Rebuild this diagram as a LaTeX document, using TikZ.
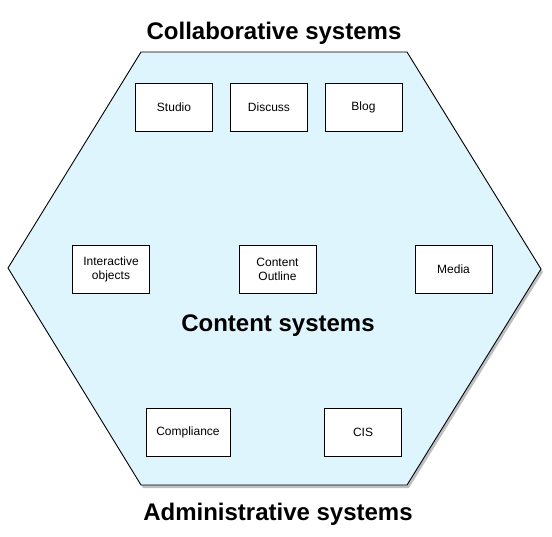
\documentclass[tikz,border=0pt]{standalone}
\usepackage{fontspec}
\setmainfont{Liberation Sans}
\definecolor{hexfill}{RGB}{223,245,253}
\begin{document}
\begin{tikzpicture}[x=1pt,y=-1pt,
  box/.style={draw=black,line width=0.9pt,fill=white,minimum width=77pt,minimum height=48pt,inner sep=1pt,align=center,font=\fontsize{12}{14}\selectfont},
  title/.style={font=\fontsize{24}{28}\selectfont\bfseries}]
\useasboundingbox (0,0) rectangle (552,536);
\fill[black,opacity=0.25] (143,55) -- (409,55) -- (543,272) -- (409,488) -- (143,488) -- (10,271) -- cycle;
\draw[fill=hexfill,line width=0.9pt] (141,52) -- (407,52) -- (541,269) -- (407,485) -- (141,485) -- (8,268) -- cycle;
\node[title] (collab) at (274,33) {Collaborative systems};
\node[title] (content) at (278,326) {Content systems};
\node[title] (admin) at (278,514) {Administrative systems};
\node[box] (studio) at (174,107) {Studio};
\node[box] (discuss) at (269,107) {Discuss};
\node[box] (blog) at (363.5,107) {Blog};
\node[box] (interactive) at (111,269) {Interactive\\objects};
\node[box] (outline) at (277.5,269) {Content\\Outline};
\node[box] (media) at (453.5,269) {Media};
\node[box,minimum width=84pt] (compliance) at (188,432) {Compliance};
\node[box] (cis) at (363,432) {CIS};
\end{tikzpicture}
\end{document}
